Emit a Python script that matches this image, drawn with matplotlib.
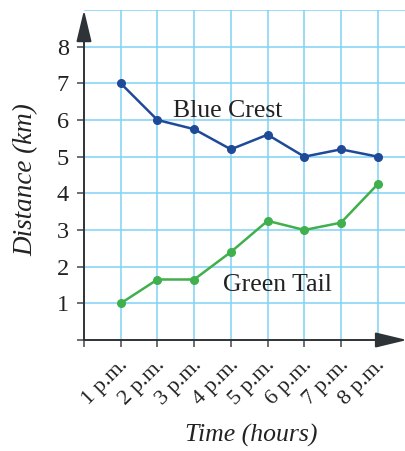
import matplotlib
matplotlib.use("Agg")
import matplotlib.pyplot as plt
from matplotlib.transforms import ScaledTranslation

# data
hours = [1, 2, 3, 4, 5, 6, 7, 8]
time_labels = ["1 p.m.", "2 p.m.", "3 p.m.", "4 p.m.", "5 p.m.", "6 p.m.", "7 p.m.", "8 p.m."]
blue_crest = [7.0, 6.0, 5.75, 5.2, 5.6, 5.0, 5.2, 5.0]
green_tail = [1.0, 1.65, 1.65, 2.4, 3.25, 3.0, 3.2, 4.25]

plt.rcParams['font.family'] = ['Liberation Serif', 'DejaVu Serif']

grid_col = '#7fd2f4'
axis_col = '#2e3338'
blue = '#1f4a98'
green = '#3fb04c'

fig = plt.figure(figsize=(4.06, 4.51), dpi=100)
ax = fig.add_axes([84 / 406, 111 / 451, 322 / 406, 330 / 451])
ax.set_xlim(0, 8.77)
ax.set_ylim(0, 9.0)

# grid
for y in range(1, 10):
    ax.axhline(y, color=grid_col, lw=1.1, zorder=1)
for x in range(1, 9):
    ax.axvline(x, color=grid_col, lw=1.1, zorder=1)

for s in ax.spines.values():
    s.set_visible(False)

# axes with arrow heads
arr = dict(arrowstyle='-|>,head_length=1.5,head_width=0.36', color=axis_col,
           lw=1.4, shrinkA=0, shrinkB=0, mutation_scale=13)
ax.annotate('', xy=(0, 9.0), xytext=(0, 0), arrowprops=arr, annotation_clip=False, zorder=3)
ax.annotate('', xy=(8.8, 0), xytext=(0, 0), arrowprops=arr, annotation_clip=False, zorder=3)

ax.plot(hours, blue_crest, color=blue, lw=1.8, marker='o', ms=5.5, zorder=4)
ax.plot(hours, green_tail, color=green, lw=1.8, marker='o', ms=5.5, zorder=4)

ax.text(2.43, 6.08, "Blue Crest", fontsize=18.5, color='#222222', va='baseline', ha='left')
ax.text(3.79, 1.34, "Green Tail", fontsize=18.5, color='#222222', va='baseline', ha='left')

ax.set_yticks(range(0, 9))
ax.set_yticklabels([''] + [str(i) for i in range(1, 9)])
ax.set_xticks([0] + hours)
ax.set_xticklabels([''] + time_labels)
ax.tick_params(axis='both', direction='out', length=5, width=1.2, color='#555555')
ax.tick_params(axis='y', labelsize=17.5, pad=6, labelcolor='#222222')
ax.tick_params(axis='x', labelsize=16, pad=13.5, labelcolor='#222222')

off = ScaledTranslation(0.08, 0, fig.dpi_scale_trans)
for lab in ax.get_xticklabels():
    lab.set_rotation(45)
    lab.set_ha('right')
    lab.set_va('baseline')
    lab.set_rotation_mode('anchor')
    lab.set_transform(lab.get_transform() + off)

fig.text(26 / 406, 1 - 180 / 451, "Distance (km)", fontsize=19.5, fontstyle='italic',
         rotation=90, ha='center', va='center', color='#222222')
fig.text(251 / 406, 1 - 435 / 451, "Time (hours)", fontsize=18.5, fontstyle='italic',
         ha='center', va='center', color='#222222')

fig.savefig("out.png", dpi=100)
